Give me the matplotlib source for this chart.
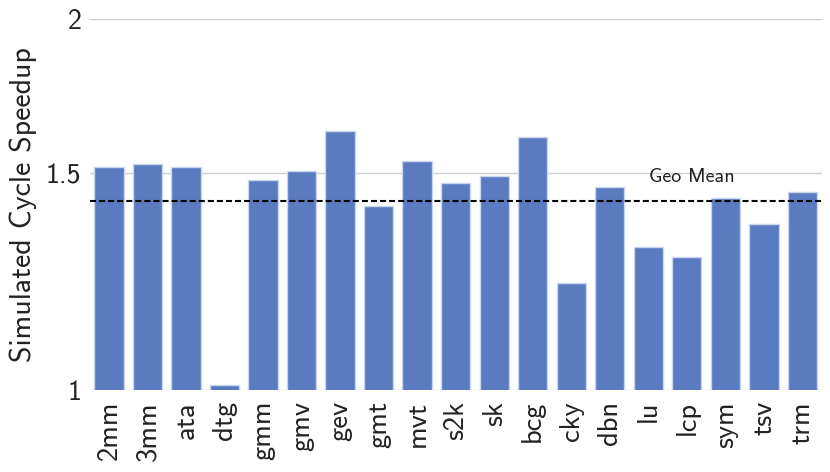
import numpy as np
import matplotlib
matplotlib.use("Agg")
import matplotlib.pyplot as plt


# -----------------------------
# Data
# -----------------------------
benchmarks = ["2mm", "3mm", "ata", "dtg", "gmm", "gmv", "gev", "gmt", "mvt", "s2k",
              "sk", "bcg", "cky", "dbn", "lu", "lcp", "sym", "tsv", "trm"]
speedup = [1.516, 1.524, 1.516, 1.009, 1.480, 1.506, 1.623, 1.410, 1.535, 1.471,
           1.491, 1.603, 1.220, 1.462, 1.305, 1.282, 1.431, 1.363, 1.446]
y_ticks = [1, 1.5, 2]
y_tick_labels = ["1", "1.5", "2"]

geo_mean = np.exp(np.mean(np.log(speedup)))


# -----------------------------
# Style
# -----------------------------
plt.rcParams["font.family"] = ["cmss10", "DejaVu Sans"]
plt.rcParams["axes.unicode_minus"] = False

bar_color = "#5a7bbf"
edge_color = "#c9d6ee"


# -----------------------------
# Plot
# -----------------------------
fig = plt.figure(figsize=(8.3, 4.72), dpi=100)
ax = fig.add_axes([0.108, 0.174, 0.882, 0.786])

x = np.arange(len(benchmarks))
ax.bar(x, speedup, width=0.76, color=bar_color, edgecolor=edge_color,
       linewidth=1.0, zorder=3)

ax.set_yscale("log", base=2)
ax.set_ylim(1, 2)
ax.set_xlim(-0.5, len(benchmarks) - 0.5)

ax.set_yticks(y_ticks)
ax.set_yticklabels(y_tick_labels, fontsize=20, color="#222222")
ax.yaxis.set_minor_locator(matplotlib.ticker.NullLocator())

ax.set_xticks(x)
ax.set_xticklabels(benchmarks, rotation=90, fontsize=20.5, color="#222222")

ax.tick_params(axis="y", length=0, pad=6)
ax.tick_params(axis="x", length=0, pad=8)

for v in y_ticks:
    ax.axhline(v, color="#d0d0d0", linewidth=1.0, zorder=1)

for s in ax.spines.values():
    s.set_visible(False)

# geo mean line
ax.axhline(geo_mean, color="black", linestyle=(0, (2.9, 1.45)), linewidth=1.5, zorder=4)
ax.text(15.14, geo_mean * 1.036, "Geo Mean", ha="center", va="baseline",
        fontsize=14.5, color="#222222", zorder=5)

ax.set_ylabel("Simulated Cycle Speedup", fontsize=21.5, color="#222222", labelpad=6)

fig.savefig("out.png", dpi=100)
